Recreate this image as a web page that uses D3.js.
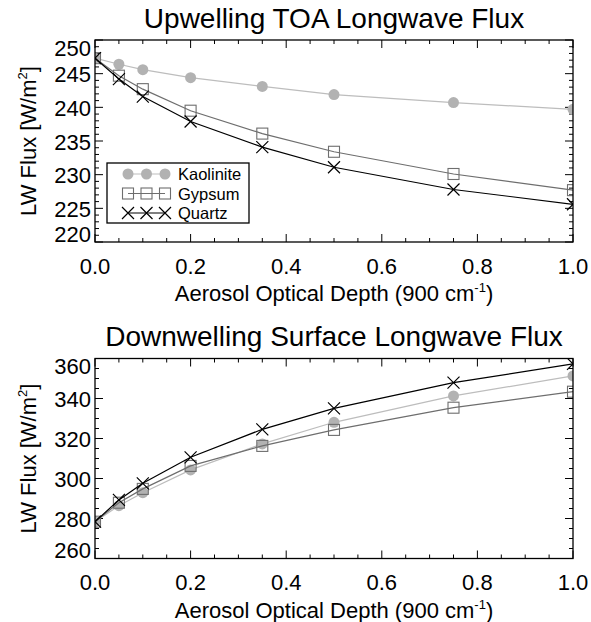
<!DOCTYPE html>
<meta charset="utf-8">
<style>
    body { margin: 0; background: #fff; }
    svg text { font-family: "Liberation Sans", Arial, Helvetica, sans-serif; fill: #000; }
</style>
<script src="https://d3js.org/d3.v7.min.js"></script>
<div id="chart"></div>
<script>
    // aerosol optical depth at 900 cm-1
    var aod = [0, 0.05, 0.1, 0.2, 0.35, 0.5, 0.75, 1.0];

    // upwelling TOA longwave flux (W/m2)
    var toaKaolinite = [247.3, 246.4, 245.6, 244.4, 243.1, 241.9, 240.7, 239.7];
    var toaGypsum    = [247.3, 244.7, 242.7, 239.5, 236.1, 233.4, 230.1, 227.7];
    var toaQuartz    = [247.3, 244.2, 241.6, 237.9, 234.1, 231.1, 227.8, 225.6];

    // downwelling surface longwave flux (W/m2)
    var sfcKaolinite = [278.4, 286.4, 292.9, 304.3, 317.3, 328.1, 341.3, 351.3];
    var sfcGypsum    = [278.4, 287.9, 294.8, 306.3, 316.3, 324.3, 335.4, 343.4];
    var sfcQuartz    = [278.4, 289.3, 297.6, 310.6, 324.6, 335.1, 347.9, 357.3];

    var seriesNames = ["Kaolinite", "Gypsum", "Quartz"];
    var xTicks = [0, 0.2, 0.4, 0.6, 0.8, 1.0];
    var toaTicks = [220, 225, 230, 235, 240, 245, 250];
    var sfcTicks = [260, 280, 300, 320, 340, 360];

    var lineColor = { Kaolinite: "#bdbdbd", Gypsum: "#6e6e6e", Quartz: "#000" };
    var markColor = { Kaolinite: "#b2b2b2", Gypsum: "#6e6e6e", Quartz: "#000" };

    var svg = d3.select("#chart").append("svg")
        .attr("width", 591)
        .attr("height", 622);

    var left = 95, right = 573;

    function drawSymbol(g, name, cx, cy) {
        if (name === "Kaolinite") {
            g.append("circle").attr("cx", cx).attr("cy", cy).attr("r", 5.5)
                .style("fill", markColor[name]);
        } else if (name === "Gypsum") {
            g.append("rect").attr("x", cx - 5.5).attr("y", cy - 5.5)
                .attr("width", 11).attr("height", 11)
                .style("fill", "none").style("stroke", markColor[name]).style("stroke-width", 1.1);
        } else {
            g.append("path")
                .attr("d", "M" + (cx - 6) + "," + (cy - 6) + "L" + (cx + 6) + "," + (cy + 6) +
                           "M" + (cx - 6) + "," + (cy + 6) + "L" + (cx + 6) + "," + (cy - 6))
                .style("stroke", markColor[name]).style("stroke-width", 1.2);
        }
    }

    function panel(id, top, bottom, yDomain, yTicks, yMinor, xMinor, series, title, legend) {
        var x = d3.scaleLinear().domain([0, 1]).range([left, right]);
        var y = d3.scaleLinear().domain(yDomain).range([bottom, top]);
        var g = svg.append("g");

        svg.append("defs").append("clipPath").attr("id", "clip" + id)
            .append("rect").attr("x", left).attr("y", top)
            .attr("width", right - left).attr("height", bottom - top);

        // minor ticks
        var xm = d3.range(0, 1.0001, xMinor);
        var ym = d3.range(yDomain[0], yDomain[1] + 0.001, yMinor);
        var ticks = g.append("g").style("stroke", "#000").style("stroke-width", 1);
        xm.forEach(function(v) {
            var len = xTicks.some(function(t) { return Math.abs(t - v) < 1e-6; }) ? 8 : 4;
            ticks.append("line").attr("x1", x(v)).attr("x2", x(v)).attr("y1", bottom).attr("y2", bottom - len);
            ticks.append("line").attr("x1", x(v)).attr("x2", x(v)).attr("y1", top).attr("y2", top + len);
        });
        ym.forEach(function(v) {
            var len = yTicks.indexOf(Math.round(v * 1000) / 1000) >= 0 ? 8 : 4;
            ticks.append("line").attr("x1", left).attr("x2", left + len).attr("y1", y(v)).attr("y2", y(v));
            ticks.append("line").attr("x1", right).attr("x2", right - len).attr("y1", y(v)).attr("y2", y(v));
        });

        // data
        var plot = g.append("g").attr("clip-path", "url(#clip" + id + ")");
        var line = d3.line()
            .x(function(d) { return x(d[0]); })
            .y(function(d) { return y(d[1]); });
        series.forEach(function(s) {
            var pts = aod.map(function(a, i) { return [a, s.values[i]]; });
            plot.append("path").datum(pts)
                .attr("d", line)
                .style("fill", "none")
                .style("stroke", lineColor[s.name])
                .style("stroke-width", 1.2);
            pts.forEach(function(p) { drawSymbol(plot, s.name, x(p[0]), y(p[1])); });
        });

        // frame
        g.append("rect").attr("x", left).attr("y", top)
            .attr("width", right - left).attr("height", bottom - top)
            .style("fill", "none").style("stroke", "#000").style("stroke-width", 1.3);

        // y tick labels, the end ones kept inside the frame
        g.selectAll(".ylab").data(yTicks).enter().append("text")
            .attr("x", left - 4)
            .attr("y", function(d) { return Math.max(top + 15.5, Math.min(bottom - 0.5, y(d) + 8.5)); })
            .attr("text-anchor", "end")
            .style("font-size", "22px")
            .text(function(d) { return d; });

        g.selectAll(".xlab").data(xTicks).enter().append("text")
            .attr("x", function(d) { return x(d); })
            .attr("y", bottom + 31.5)
            .attr("text-anchor", "middle")
            .style("font-size", "22px")
            .text(function(d) { return d.toFixed(1); });

        var xt = g.append("text")
            .attr("x", (left + right) / 2)
            .attr("y", bottom + 59)
            .attr("text-anchor", "middle")
            .style("font-size", "22px");
        xt.append("tspan").text("Aerosol Optical Depth (900 cm");
        xt.append("tspan").attr("dy", -9).style("font-size", "13px").text("-1");
        xt.append("tspan").attr("dy", 9).text(")");

        var yt = g.append("text")
            .attr("transform", "translate(36," + (top + bottom) / 2 + ") rotate(-90)")
            .attr("text-anchor", "middle")
            .style("font-size", "22px");
        yt.append("tspan").text("LW Flux [W/m");
        yt.append("tspan").attr("dy", -9).style("font-size", "13px").text("2");
        yt.append("tspan").attr("dy", 9).text("]");

        g.append("text")
            .attr("x", (left + right) / 2)
            .attr("y", top - 12.5)
            .attr("text-anchor", "middle")
            .style("font-size", "28px")
            .text(title);

        if (legend) {
            var lg = g.append("g");
            lg.append("rect").attr("x", 107).attr("y", 163).attr("width", 142).attr("height", 60)
                .style("fill", "#fff").style("stroke", "#000").style("stroke-width", 1.3);
            var sx = [128, 146.5, 165];
            seriesNames.forEach(function(name, i) {
                var ry = 174 + i * 19.5;
                lg.append("line").attr("x1", sx[0]).attr("x2", sx[2]).attr("y1", ry).attr("y2", ry)
                    .style("stroke", lineColor[name]).style("stroke-width", 1.2);
                sx.forEach(function(px) { drawSymbol(lg, name, px, ry); });
                lg.append("text").attr("x", 178).attr("y", ry + 6)
                    .style("font-size", "16.5px")
                    .text(name);
            });
        }
    }

    panel("toa", 40, 242, [220, 250], toaTicks, 1, 0.05, [
        { name: "Kaolinite", values: toaKaolinite },
        { name: "Gypsum", values: toaGypsum },
        { name: "Quartz", values: toaQuartz }
    ], "Upwelling TOA Longwave Flux", true);

    panel("sfc", 358.5, 558.5, [260, 360], sfcTicks, 5, 0.05, [
        { name: "Kaolinite", values: sfcKaolinite },
        { name: "Gypsum", values: sfcGypsum },
        { name: "Quartz", values: sfcQuartz }
    ], "Downwelling Surface Longwave Flux", false);
</script>
